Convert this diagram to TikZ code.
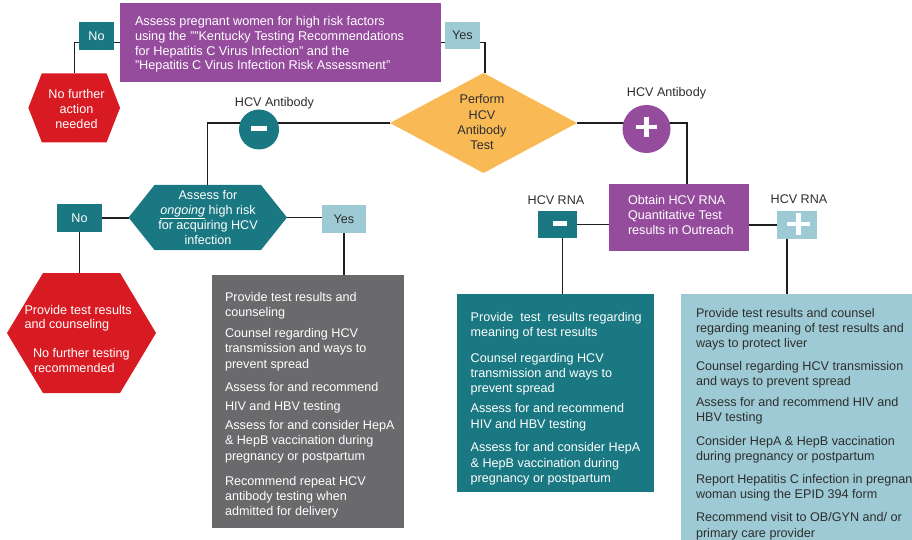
\documentclass[tikz,border=0pt]{standalone}
\usepackage{fontspec}
\setmainfont{Liberation Sans}
\usetikzlibrary{backgrounds,calc}
\definecolor{cpurple}{HTML}{964C9D}
\definecolor{cteal}{HTML}{1A7882}
\definecolor{clblue}{HTML}{9DCAD4}
\definecolor{cred}{HTML}{D81B23}
\definecolor{cyellow}{HTML}{F9BA56}
\definecolor{cgray}{HTML}{6A6A6D}
\definecolor{cline}{HTML}{1E1E1E}
\definecolor{cdark}{HTML}{2E2E2E}
\newcommand\myfs{\fontsize{12.6pt}{15.3pt}\selectfont}
\newcommand\hexfill[3]{\fill[#3] (#1.west) -- ([xshift=#2]#1.north west) -- ([xshift=-#2]#1.north east) -- (#1.east) -- ([xshift=-#2]#1.south east) -- ([xshift=#2]#1.south west) -- cycle;}
\tikzset{
  shapebox/.style={rectangle, inner sep=0pt, outer sep=0pt},
  txt/.style={inner sep=0pt, outer sep=0pt, align=left, font=\myfs},
  ctxt/.style={inner sep=0pt, outer sep=0pt, align=center, font=\myfs},
  conn/.style={draw=cline, line width=1.4pt},
  sign/.style={white, line width=4.5pt},
}
\begin{document}
\begin{tikzpicture}[x=1pt,y=-1pt]
\useasboundingbox (0,0) rectangle (912,540);

% ---- boxes
\node[shapebox, fill=cpurple, minimum width=321pt, minimum height=79pt] (top) at (280.5,42.5) {};
\node[txt, text=white, anchor=north west, font=\fontsize{12.7pt}{14.8pt}\selectfont] (toptxt) at (135,16.2)
 {Assess pregnant women for high risk factors\\
  using the ""Kentucky Testing Recommendations\\
  for Hepatitis C Virus Infection" and the\\
  "Hepatitis C Virus Infection Risk Assessment"};

\node[shapebox, fill=cteal, minimum width=35pt, minimum height=28.5pt, text=white, font=\myfs] (no1) at (96.5,36.2) {No};
\node[shapebox, fill=clblue, minimum width=35pt, minimum height=27pt, text=cdark, font=\myfs] (yes1) at (462.5,35.5) {Yes};

\node[shapebox, minimum width=91.7pt, minimum height=69pt] (hex1) at (74.2,107.8) {};
\node[ctxt, text=white, font=\fontsize{12.6pt}{15pt}\selectfont] (hex1txt) at (76.5,108.7) {No further\\action\\needed};

\node[shapebox, minimum width=187pt, minimum height=100pt] (dia) at (483.5,123) {};
\node[ctxt, text=cdark, font=\fontsize{12.6pt}{15.2pt}\selectfont] (diatxt) at (482,122.2) {Perform\\HCV\\Antibody\\Test};

\node[txt, text=cdark, anchor=base] (ablabneg) at (274.5,106.5) {HCV Antibody};
\node[txt, text=cdark, anchor=base] (ablabpos) at (666.5,96.5) {HCV Antibody};

\node[circle, fill=cteal, minimum size=40pt, inner sep=0pt, outer sep=0pt] (abneg) at (259,129.5) {};
\node[circle, fill=cpurple, minimum size=48pt, inner sep=0pt, outer sep=0pt] (abpos) at (646.5,129) {};

\node[shapebox, minimum width=158.5pt, minimum height=65pt] (assess) at (207.75,217.5) {};
\node[ctxt, text=white, font=\fontsize{12.6pt}{15pt}\selectfont] (assesstxt) at (208,217.5)
 {Assess for\\\underline{\textit{ongoing}} high risk\\for acquiring HCV\\infection};

\node[shapebox, fill=cteal, minimum width=45pt, minimum height=28pt, text=white, font=\myfs] (no2) at (79.5,218) {No};
\node[shapebox, fill=clblue, minimum width=44pt, minimum height=28pt, text=cdark, font=\myfs] (yes2) at (344,219) {Yes};

\node[shapebox, minimum width=149pt, minimum height=120pt] (hex2) at (81.5,333) {};
\node[txt, text=white, anchor=north west, font=\fontsize{12.6pt}{14.3pt}\selectfont] (hex2txt) at (24.5,305.5)
 {Provide test results\\and counseling\\[14.7pt]
  \hspace*{8.5pt}No further testing\\\hspace*{9.5pt}recommended};

\node[shapebox, fill=cpurple, minimum width=140pt, minimum height=67pt] (obt) at (679,217.5) {};
\node[txt, text=white, anchor=north west, font=\fontsize{12.6pt}{15pt}\selectfont] (obttxt) at (628,195.5)
 {Obtain HCV RNA\\Quantitative Test\\results in Outreach};

\node[txt, text=cdark, anchor=base] (rnalabneg) at (556,204.5) {HCV RNA};
\node[txt, text=cdark, anchor=base] (rnalabpos) at (799,203.5) {HCV RNA};
\node[shapebox, fill=cteal, minimum width=39pt, minimum height=27pt] (rnaneg) at (557.5,224.5) {};
\node[shapebox, fill=clblue, minimum width=40pt, minimum height=28pt] (rnapos) at (797,225) {};

\node[shapebox, fill=cgray, minimum width=192pt, minimum height=253pt] (gray) at (308,401.5) {};
\node[txt, text=white, anchor=north west] (graytxt) at (225,292.2)
 {Provide test results and\\
  counseling\\[5.7pt]
  Counsel regarding HCV\\
  transmission and ways to\\
  prevent spread\\[8.4pt]
  Assess for and recommend\\[3.4pt]
  HIV and HBV testing\\[3.7pt]
  Assess for and consider HepA\\
  \& HepB vaccination during\\
  pregnancy or postpartum\\[9.8pt]
  Recommend repeat HCV\\
  antibody testing when\\
  admitted for delivery};

\node[shapebox, fill=cteal, minimum width=197pt, minimum height=198pt] (teal) at (555.5,393) {};
\node[txt, text=white, anchor=north west] (tealtxt) at (470.7,312.2)
 {Provide~ test~ results regarding\\
  meaning of test results\\[10.4pt]
  Counsel regarding HCV\\
  transmission and ways to\\
  prevent spread\\[4.7pt]
  Assess for and recommend\\
  HIV and HBV testing\\[8.4pt]
  Assess for and consider HepA\\
  \& HepB vaccination during\\
  pregnancy or postpartum};

\node[shapebox, fill=clblue, minimum width=249pt, minimum height=266pt] (lb) at (805.5,427) {};
\node[txt, text=cdark, anchor=north west] (lbtxt) at (696,308.2)
 {Provide test results and counsel\\
  regarding meaning of test results and\\
  ways to protect liver\\[7.4pt]
  Counsel regarding HCV transmission\\
  and ways to prevent spread\\[5.1pt]
  Assess for and recommend HIV and\\
  HBV testing\\[8.7pt]
  Consider HepA \& HepB vaccination\\
  during pregnancy or postpartum\\[7.4pt]
  Report Hepatitis C infection in pregnant\\
  woman using the EPID 394 form\\[7.7pt]
  Recommend visit to OB/GYN and/ or\\
  primary care provider};

% ---- signs
\draw[sign] ([xshift=-8pt,yshift=1pt]abneg.center) -- ([xshift=8pt,yshift=1pt]abneg.center);
\draw[sign] ([xshift=-10.5pt,yshift=2pt]abpos.center) -- ([xshift=10.5pt,yshift=2pt]abpos.center);
\draw[sign] ([yshift=12pt]abpos.center) -- ([yshift=-8pt]abpos.center);
\draw[sign] ([xshift=-5pt,yshift=1.2pt]rnaneg.center) -- ([xshift=9pt,yshift=1.2pt]rnaneg.center);
\draw[sign] ([xshift=-10pt,yshift=1pt]rnapos.center) -- ([xshift=13pt,yshift=1pt]rnapos.center);
\draw[sign] ([xshift=1.5pt,yshift=12pt]rnapos.center) -- ([xshift=1.5pt,yshift=-10pt]rnapos.center);

% ---- shape fills and connectors behind
\begin{pgfonlayer}{background}
\fill[white] (0,0) rectangle (912,540);
\draw[conn] (no1.east |- top.west) -- (top.west);
\draw[conn] (no1.west |- top.west) -| (hex1.north);
\draw[conn] (top.east) -- (yes1.west |- top.east);
\draw[conn] (yes1.east |- top.east) -| ([xshift=1.5pt]dia.north);
\draw[conn] (dia.west) -| (assess.north);
\draw[conn] (dia.east) -| ([xshift=8pt]obt.north);
\draw[conn] (no2.east) -- (no2.east -| assess.west);
\draw[conn] (no2.south) -- (no2.south |- hex2.north);
\draw[conn] (assess.east) -- (assess.east -| yes2.west);
\draw[conn] (yes2.south) -- (yes2.south |- gray.north);
\draw[conn] (rnaneg.east) -- (rnaneg.east -| obt.west);
\draw[conn] (obt.east |- rnapos.west) -- (rnapos.west);
\draw[conn] ([xshift=5pt]rnaneg.south) -- ([xshift=5pt]rnaneg.south |- teal.north);
\draw[conn] ([xshift=-10pt]rnapos.south) -- ([xshift=-10pt]rnapos.south |- lb.north);
\hexfill{hex1}{13.5pt}{cred}
\hexfill{assess}{26pt}{cteal}
\hexfill{hex2}{36pt}{cred}
\fill[cyellow] (dia.north) -- (dia.east) -- (dia.south) -- (dia.west) -- cycle;
\end{pgfonlayer}
\end{tikzpicture}
\end{document}
